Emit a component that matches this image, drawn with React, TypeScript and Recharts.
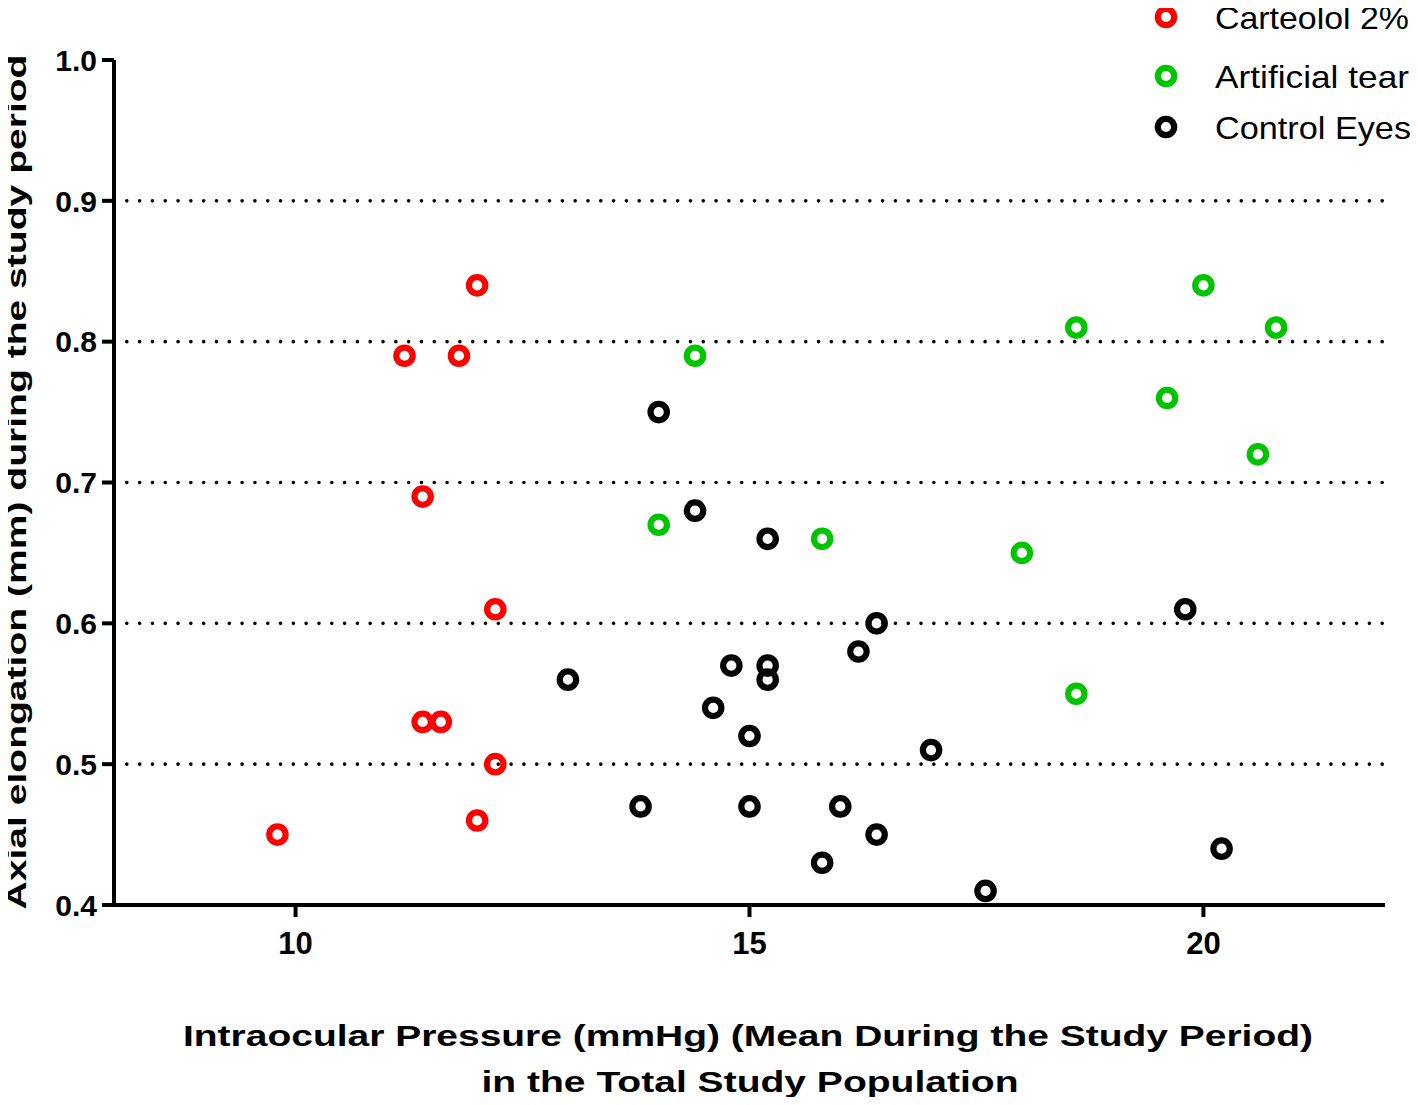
import { Label, ReferenceLine, Scatter, ScatterChart, XAxis, YAxis } from "recharts";

const FONT = '"Liberation Sans", Arial, sans-serif';

// Carteolol 2%
const carteololIop = [11.2, 11.8, 12.0, 11.4, 12.2, 11.4, 11.6, 12.2, 12.0, 9.8];
const carteololAxial = [0.79, 0.79, 0.84, 0.69, 0.61, 0.53, 0.53, 0.5, 0.46, 0.45];

// Artificial tear
const tearIop = [14.4, 14.0, 15.8, 18.0, 18.6, 18.6, 19.6, 20.0, 20.6, 20.8];
const tearAxial = [0.79, 0.67, 0.66, 0.65, 0.81, 0.55, 0.76, 0.84, 0.72, 0.81];

// Control Eyes
const controlIop = [
  14.0, 14.4, 15.2, 13.0, 14.8, 15.2, 15.2, 14.6, 15.0, 13.8,
  15.0, 16.4, 16.2, 17.0, 16.0, 16.4, 15.8, 17.6, 19.8, 20.2,
];
const controlAxial = [
  0.75, 0.68, 0.66, 0.56, 0.57, 0.57, 0.56, 0.54, 0.52, 0.47,
  0.47, 0.6, 0.58, 0.51, 0.47, 0.45, 0.43, 0.41, 0.61, 0.44,
];

const xTicks = [10, 15, 20];
const yTicks = [0.4, 0.5, 0.6, 0.7, 0.8, 0.9, 1.0];
const gridValues = [0.5, 0.6, 0.7, 0.8, 0.9];

const SERIES = [
  { name: "Carteolol 2%", color: "#ff0000", xs: carteololIop, ys: carteololAxial },
  { name: "Artificial tear", color: "#00c400", xs: tearIop, ys: tearAxial },
  { name: "Control Eyes", color: "#000000", xs: controlIop, ys: controlAxial },
];

// legend rows: circle centre y, text width
const LEGEND_Y = [17, 76, 127];
const LEGEND_W = [194, 194, 196];

const ring = (color: string) => (props: any) =>
  <circle cx={props.cx} cy={props.cy} r={8.2} fill="none" stroke={color} strokeWidth={6.2} />;

const XTick = (props: any) => (
  <text x={props.x} y={954} textAnchor="middle" fill="#000" fontSize={31} fontWeight="bold" fontFamily={FONT}>
    {props.payload.value}
  </text>
);

const YTick = (props: any) => (
  <text x={97} y={props.y} dy="0.36em" textAnchor="end" fill="#000" fontSize={30} fontWeight="bold" fontFamily={FONT}>
    {Number(props.payload.value).toFixed(1)}
  </text>
);

export default function App() {
  return (
    <div style={{ position: "relative", width: 1418, height: 1105, margin: -8, background: "#fff" }}>
      <ScatterChart
        width={1418}
        height={1105}
        margin={{ top: 60, right: 33, left: 0, bottom: 0 }}
        style={{ fontFamily: FONT }}
      >
        {gridValues.map((v) => (
          <ReferenceLine
            key={v}
            y={v}
            stroke="#000"
            strokeWidth={3.6}
            strokeDasharray="0.01 12.8"
            strokeLinecap="round"
          />
        ))}
        <XAxis
          type="number"
          dataKey="x"
          domain={[8, 22]}
          ticks={xTicks}
          height={200}
          axisLine={{ stroke: "#000", strokeWidth: 4 }}
          tickLine={{ stroke: "#000", strokeWidth: 4 }}
          tickSize={12}
          tick={<XTick />}
        >
          <Label
            content={() => (
              <text fill="#000" fontSize={30} fontWeight="bold" fontFamily={FONT} textAnchor="middle">
                <tspan x={748} y={1046} textLength={1130} lengthAdjust="spacingAndGlyphs">
                  Intraocular Pressure (mmHg) (Mean During the Study Period)
                </tspan>
              </text>
            )}
          />
          <Label
            content={() => (
              <text fill="#000" fontSize={30} fontWeight="bold" fontFamily={FONT} textAnchor="middle">
                <tspan x={750} y={1092} textLength={537} lengthAdjust="spacingAndGlyphs">
                  in the Total Study Population
                </tspan>
              </text>
            )}
          />
        </XAxis>
        <YAxis
          type="number"
          dataKey="y"
          domain={[0.4, 1.0]}
          ticks={yTicks}
          width={114}
          axisLine={{ stroke: "#000", strokeWidth: 4 }}
          tickLine={{ stroke: "#000", strokeWidth: 4 }}
          tickSize={12}
          tick={<YTick />}
        >
          <Label
            content={() => (
              <text
                transform="rotate(-90)"
                x={-482}
                y={26}
                textAnchor="middle"
                fill="#000"
                fontSize={28}
                fontWeight="bold"
                fontFamily={FONT}
                textLength={855}
                lengthAdjust="spacingAndGlyphs"
              >
                Axial elongation (mm) during the study period
              </text>
            )}
          />
        </YAxis>
        {SERIES.map((s) => (
          <Scatter
            key={s.name}
            name={s.name}
            data={s.xs.map((x, i) => ({ x, y: s.ys[i] }))}
            shape={ring(s.color)}
            isAnimationActive={false}
          />
        ))}
      </ScatterChart>
      <svg width={270} height={150} style={{ position: "absolute", left: 1140, top: 0 }}>
        {SERIES.map((s, i) => (
          <g key={s.name}>
            <circle cx={26} cy={LEGEND_Y[i]} r={8.2} fill="none" stroke={s.color} strokeWidth={6.2} />
            <text
              x={75}
              y={LEGEND_Y[i] + 11.5}
              fill="#000"
              fontSize={32}
              fontFamily={FONT}
              textLength={LEGEND_W[i]}
              lengthAdjust="spacingAndGlyphs"
            >
              {s.name}
            </text>
          </g>
        ))}
      </svg>
    </div>
  );
}
